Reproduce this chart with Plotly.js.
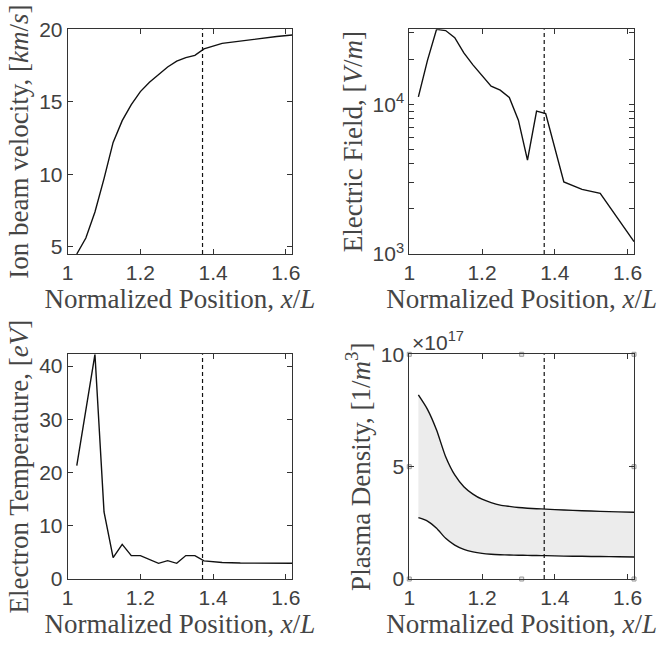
<!DOCTYPE html>
<html>
<head>
<meta charset="utf-8">
<script src="https://cdn.plot.ly/plotly-3.0.1.min.js"></script>
<style>html,body{margin:0;padding:0;background:#fff;}#chart{width:661px;height:645px;}</style>
</head>
<body>
<div id="chart"></div>
<script>
// Normalized position grid
const xPos = [1.025,1.05,1.075,1.1,1.125,1.15,1.175,1.2,1.225,1.25,1.275,1.3,1.325,1.35,1.375,1.425,1.475,1.525,1.575,1.618];
// Ion beam velocity [km/s]
const ionVelocity = [4.5,5.6,7.4,9.7,12.2,13.7,14.8,15.7,16.35,16.9,17.4,17.8,18.05,18.2,18.65,19.03,19.2,19.37,19.5,19.61];
// Electric field [V/m]
const eField = [11200,19600,31600,31000,27800,22000,18300,15400,13200,12400,11100,7820,4230,8980,8660,3030,2700,2540,1700,1210];
// Electron temperature [eV]
const eTemp = [21.3,31.5,42.2,12.6,4.0,6.5,4.4,4.4,3.7,2.95,3.45,2.95,4.4,4.4,3.4,3.1,3.0,2.97,2.96,2.96];
// Plasma density bounds [x10^17 1/m^3]
const densUpper = [8.19,7.55,6.63,5.44,4.63,4.11,3.78,3.55,3.40,3.29,3.23,3.18,3.15,3.13,3.11,3.07,3.04,3.01,2.99,2.97];
const densLower = [2.73,2.58,2.26,1.81,1.51,1.32,1.21,1.14,1.10,1.08,1.07,1.06,1.05,1.045,1.04,1.02,1.01,1.0,0.99,0.98];
// Marker position (dashed line)
const xMarker = 1.371;
// axis ranges
const xRange = [1, 1.618];
const xTicks = [1, 1.2, 1.4, 1.6];
const yTicks1 = [5, 10, 15, 20];
const yTicks2 = [1000,2000,3000,4000,5000,6000,7000,8000,9000,10000,20000,30000];
const yTickText2 = ['10<sup>3</sup>','','','','','','','','','10<sup>4</sup>','',''];
const yTicks3 = [0, 10, 20, 30, 40];
const yTicks4 = [0, 5, 10];

// Edit handles around the density axes (corners and midpoints)
const xMid = (xRange[0] + xRange[1]) / 2;
const handleX = [xRange[0], xMid, xRange[1], xRange[1], xRange[1], xMid, xRange[0], xRange[0]];
const handleY = [10, 10, 10, 5, 0, 0, 0, 5];

const lineStyle = {color: '#111', width: 1.4};
const fixedTrace = {x: xPos, line: lineStyle, mode: 'lines', showlegend: false, hoverinfo: 'skip'};

const traces = [
  Object.assign({}, fixedTrace, {y: ionVelocity, xaxis: 'x', yaxis: 'y'}),
  Object.assign({}, fixedTrace, {y: eField, xaxis: 'x2', yaxis: 'y2'}),
  Object.assign({}, fixedTrace, {y: eTemp, xaxis: 'x3', yaxis: 'y3'}),
  Object.assign({}, fixedTrace, {y: densLower, xaxis: 'x4', yaxis: 'y4', line: {color: '#111', width: 1.4, shape: 'spline', smoothing: 0.6}}),
  Object.assign({}, fixedTrace, {y: densUpper, xaxis: 'x4', yaxis: 'y4', fill: 'tonexty', fillcolor: '#ececec', line: {color: '#111', width: 1.4, shape: 'spline', smoothing: 0.6}}),
  {x: handleX, y: handleY, xaxis: 'x4', yaxis: 'y4', mode: 'markers', showlegend: false, hoverinfo: 'skip', cliponaxis: false,
   marker: {symbol: 'square', size: 4, color: '#e6e6e6', line: {color: '#999', width: 1}}}
];

const tickFont = {family: 'Liberation Sans, Arial, sans-serif', size: 21, color: '#404040'};
const titleFont = {family: 'Liberation Serif, Times New Roman, serif', size: 27, color: '#454545'};
function ax(extra) {
  return Object.assign({
    showline: true, mirror: 'ticks', linecolor: '#333', linewidth: 1,
    ticks: 'inside', ticklen: 5, tickcolor: '#333', tickwidth: 1,
    tickfont: tickFont, showgrid: false, zeroline: false, fixedrange: true
  }, extra);
}
const xTitle = {text: 'Normalized Position, <i>x</i>/<i>L</i>', font: titleFont, standoff: 1};
const dxL = [0.1024, 0.4422], dxR = [0.6192, 0.9592];
const dyT = [0.6062, 0.9546], dyB = [0.1023, 0.4507];

const layout = {
  width: 661, height: 645,
  margin: {l: 0, r: 0, t: 0, b: 0},
  paper_bgcolor: '#fff', plot_bgcolor: '#fff',
  showlegend: false,
  xaxis: ax({domain: dxL, anchor: 'y', range: xRange, tickvals: xTicks, title: xTitle}),
  yaxis: ax({domain: dyT, anchor: 'x', range: [4.5, 20], tickvals: yTicks1,
    title: {text: 'Ion beam velocity, [<i>km</i>/<i>s</i>]', font: titleFont, standoff: 2}}),
  xaxis2: ax({domain: dxR, anchor: 'y2', range: xRange, tickvals: xTicks, title: xTitle}),
  yaxis2: ax({domain: dyT, anchor: 'x2', type: 'log', range: [3, 4.5], tickvals: yTicks2, ticktext: yTickText2,
    title: {text: 'Electric Field, [<i>V</i>/<i>m</i>]', font: titleFont, standoff: 2}}),
  xaxis3: ax({domain: dxL, anchor: 'y3', range: xRange, tickvals: xTicks, title: xTitle}),
  yaxis3: ax({domain: dyB, anchor: 'x3', range: [0, 42.2], tickvals: yTicks3,
    title: {text: 'Electron Temperature, [<i>eV</i>]', font: titleFont, standoff: 2}}),
  xaxis4: ax({domain: dxR, anchor: 'y4', range: xRange, tickvals: xTicks, title: xTitle}),
  yaxis4: ax({domain: dyB, anchor: 'x4', range: [0, 10], tickvals: yTicks4,
    title: {text: 'Plasma Density, [1/<i>m</i><sup>3</sup>]', font: titleFont, standoff: 2}}),
  shapes: [
    ['x', 'y'], ['x2', 'y2'], ['x3', 'y3'], ['x4', 'y4']
  ].map(([xr, yr]) => ({type: 'line', xref: xr, yref: yr + ' domain', x0: xMarker, x1: xMarker, y0: 0, y1: 1,
    line: {color: '#111', width: 1.2, dash: '4px,3px'}})),
  annotations: [
    {xref: 'x4 domain', yref: 'y4 domain', x: 0.005, y: 1.0, xanchor: 'left', yanchor: 'bottom', showarrow: false,
     text: '×10<sup>17</sup>', font: tickFont, yshift: -2}
  ]
};

Plotly.newPlot('chart', traces, layout, {displayModeBar: false, staticPlot: true});
</script>
</body>
</html>
